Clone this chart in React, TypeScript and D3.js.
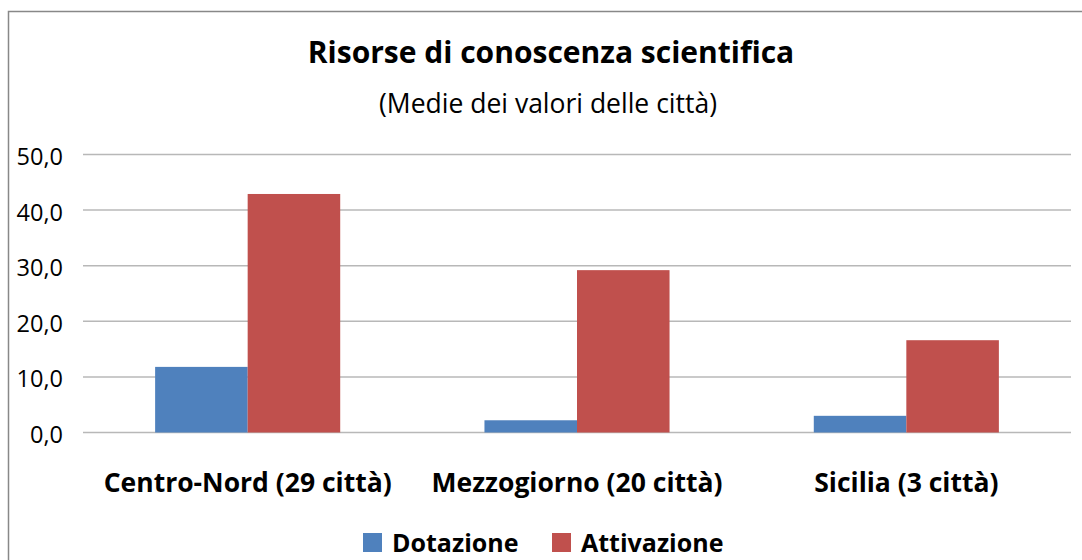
import React, { useEffect, useRef } from 'react';
import * as d3 from 'd3';

const categories = ['Centro-Nord (29 città)', 'Mezzogiorno (20 città)', 'Sicilia (3 città)'];
const seriesNames = ['Dotazione', 'Attivazione'];
const dotazione = [11.8, 2.2, 3.0];
const attivazione = [42.9, 29.2, 16.6];
const yTicks = [0, 10, 20, 30, 40, 50];
const colors = ['#4f81bd', '#c0504d'];

const FONT = "'Open Sans', 'Noto Sans', sans-serif";

const App = () => {
  const ref = useRef<SVGSVGElement>(null);

  useEffect(() => {
    const w = 1082;
    const h = 560;
    const svg = d3.select(ref.current);
    svg.selectAll('*').remove();

    // chart frame
    svg.append('rect')
      .attr('x', 8.5).attr('y', 11.5)
      .attr('width', w + 20).attr('height', h + 20)
      .attr('fill', 'white')
      .attr('stroke', '#888').attr('stroke-width', 1.5);

    // titles
    svg.append('text')
      .attr('x', 551).attr('y', 63)
      .attr('text-anchor', 'middle')
      .attr('font-family', FONT).attr('font-weight', 'bold').attr('font-size', 30)
      .attr('fill', '#000')
      .text('Risorse di conoscenza scientifica');
    svg.append('text')
      .attr('x', 548).attr('y', 113)
      .attr('text-anchor', 'middle')
      .attr('font-family', FONT).attr('font-size', 26.5)
      .attr('fill', '#000')
      .text('(Medie dei valori delle città)');

    const left = 83, right = 1071, top = 154.5, bottom = 432.5;

    const x0 = d3.scaleBand<number>()
      .domain(d3.range(categories.length))
      .range([left, right])
      .paddingInner(0.438)
      .paddingOuter(0.219);
    const x1 = d3.scaleBand<number>()
      .domain(d3.range(seriesNames.length))
      .range([0, x0.bandwidth()]);
    const y = d3.scaleLinear().domain([0, 50]).range([bottom, top]);

    // gridlines
    svg.selectAll('line.grid')
      .data(yTicks)
      .enter()
      .append('line')
      .attr('class', 'grid')
      .attr('x1', left).attr('x2', right)
      .attr('y1', d => y(d)).attr('y2', d => y(d))
      .attr('stroke', '#b8b8b8').attr('stroke-width', 1.5);

    // y labels
    svg.selectAll('text.ytick')
      .data(yTicks)
      .enter()
      .append('text')
      .attr('class', 'ytick')
      .attr('x', 63).attr('y', d => y(d) + 10.5)
      .attr('text-anchor', 'end')
      .attr('font-family', FONT).attr('font-size', 23.5)
      .attr('fill', '#000')
      .text(d => d.toFixed(1).replace('.', ','));

    const values = [dotazione, attivazione];
    values.forEach((vals, s) => {
      svg.selectAll('rect.s' + s)
        .data(vals)
        .enter()
        .append('rect')
        .attr('class', 's' + s)
        .attr('x', (d, i) => (x0(i) as number) + (x1(s) as number))
        .attr('y', d => y(d))
        .attr('width', x1.bandwidth())
        .attr('height', d => bottom - y(d))
        .attr('fill', colors[s]);
    });

    // category labels
    svg.selectAll('text.cat')
      .data(categories)
      .enter()
      .append('text')
      .attr('class', 'cat')
      .attr('x', (d, i) => (x0(i) as number) + x0.bandwidth() / 2)
      .attr('y', 492)
      .attr('text-anchor', 'middle')
      .attr('font-family', FONT).attr('font-weight', 'bold').attr('font-size', 26.5)
      .attr('fill', '#000')
      .text(d => d);

    // legend
    const legendX = [363, 552];
    seriesNames.forEach((name, s) => {
      svg.append('rect')
        .attr('x', legendX[s]).attr('y', 533)
        .attr('width', 19).attr('height', 19)
        .attr('fill', colors[s]);
      svg.append('text')
        .attr('x', legendX[s] + 29).attr('y', 552)
        .attr('font-family', FONT).attr('font-weight', 'bold').attr('font-size', 25)
        .attr('fill', '#000')
        .text(name);
    });
  }, []);

  return (
    <svg ref={ref} width={1082} height={560}
      style={{ position: 'absolute', left: 0, top: 0, display: 'block' }} />
  );
};

export default App;
